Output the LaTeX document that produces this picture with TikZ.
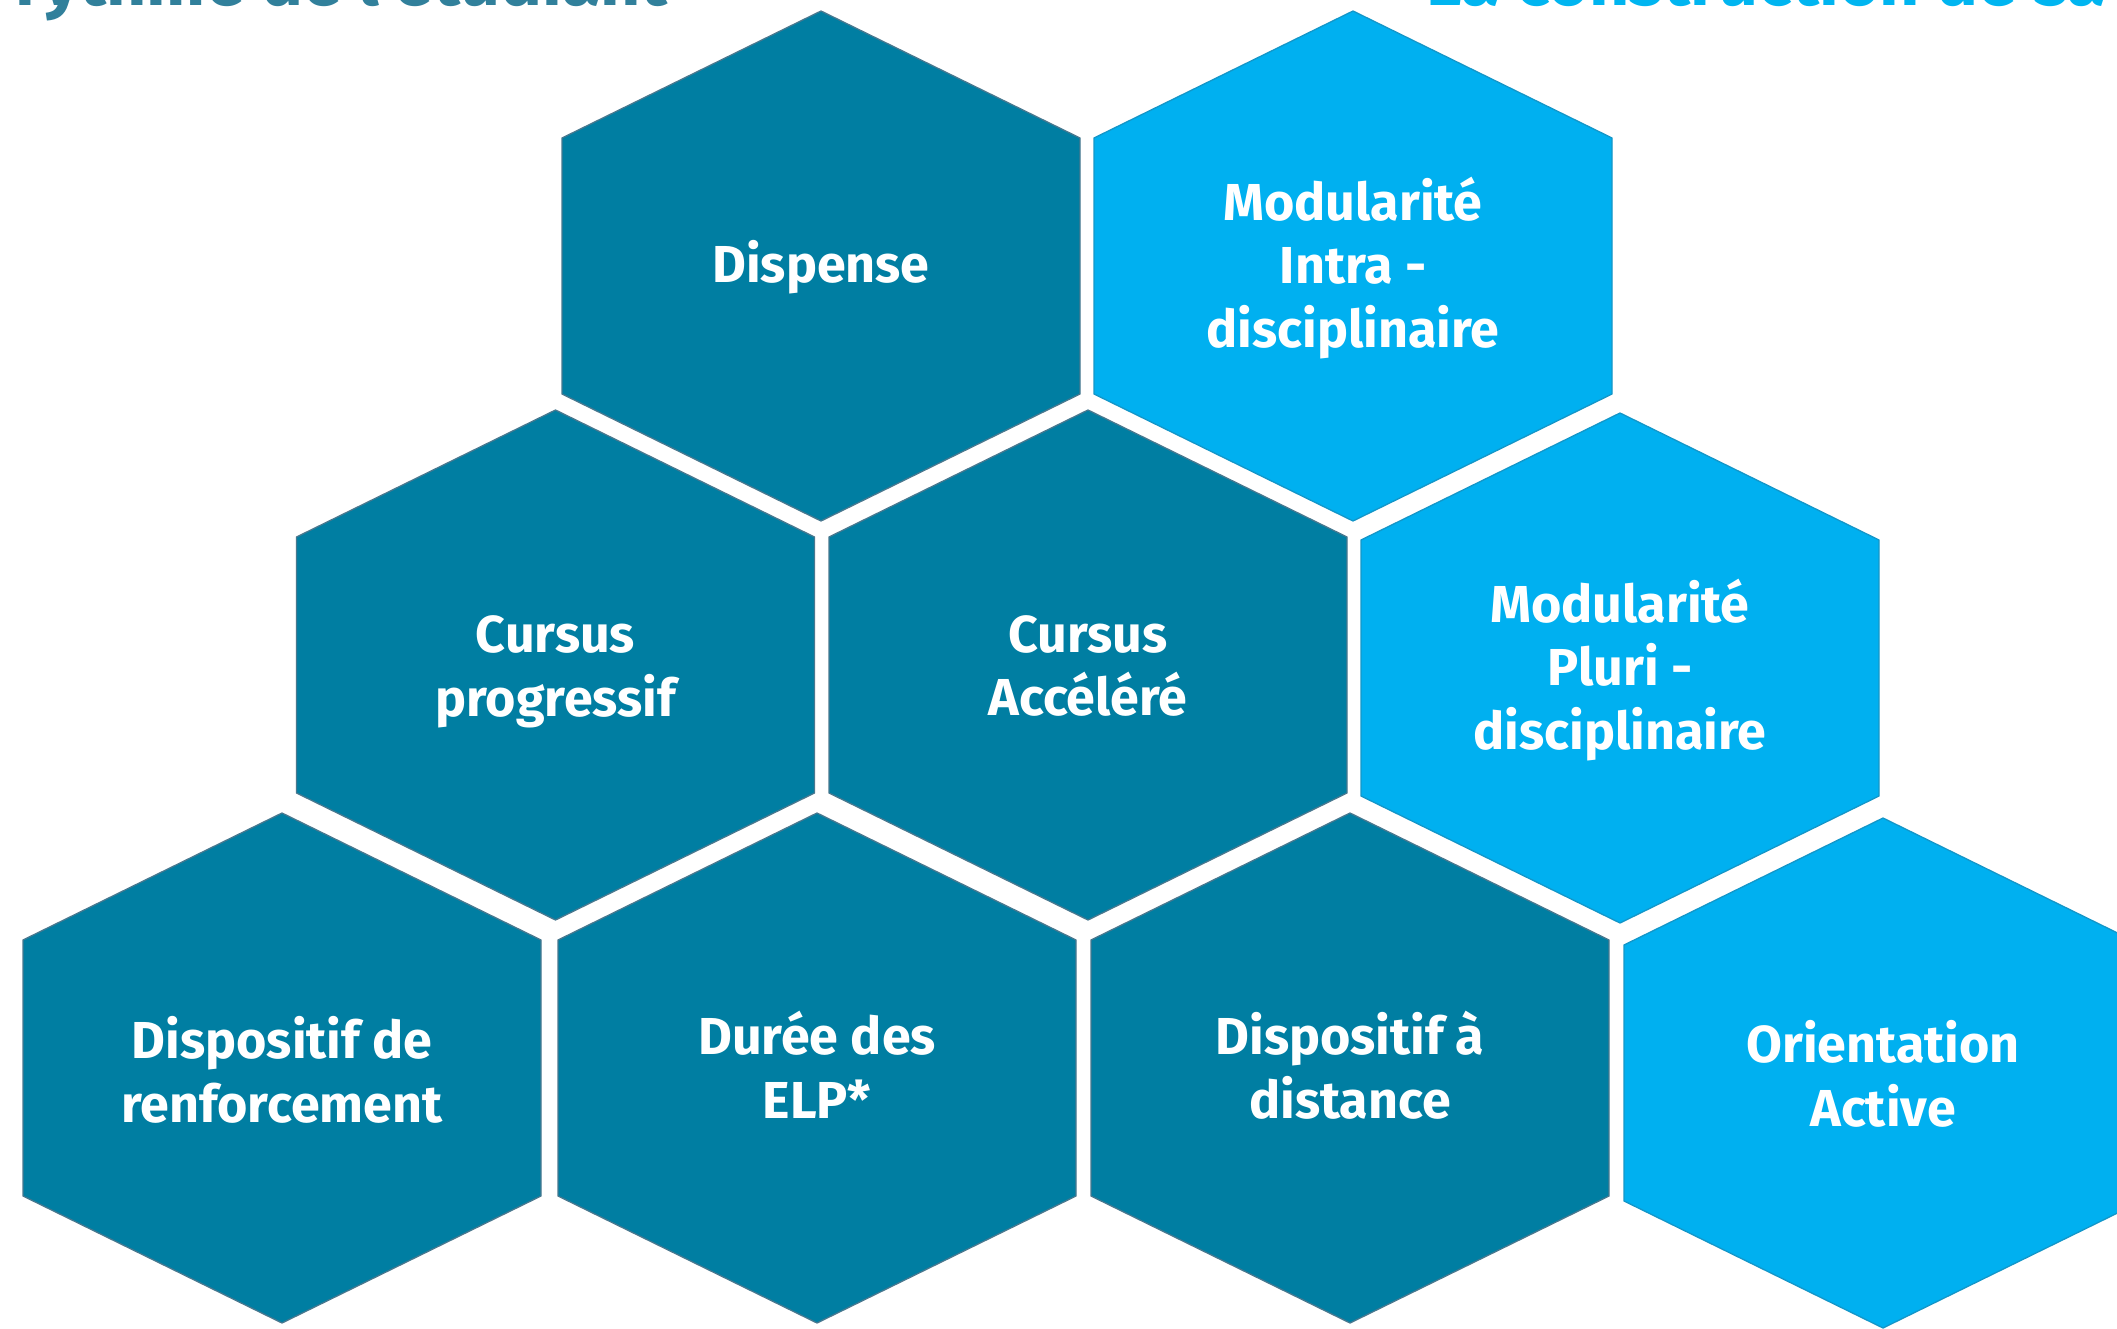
\documentclass[tikz,border=0pt]{standalone}
\usepackage{fontspec}
\setmainfont{Fira Sans}
\definecolor{tealfill}{HTML}{007EA2}
\definecolor{tealline}{HTML}{48788F}
\definecolor{bluefill}{HTML}{00B0F0}
\definecolor{blueline}{HTML}{1496C8}
\definecolor{titleteal}{HTML}{31809B}
\definecolor{titleblue}{HTML}{00B5F0}
\newcommand{\hexshape}[3]{%
  \path[#1] (#2,#3) ++(0,-255) -- ++(259,127) -- ++(0,256) -- ++(-259,127) -- ++(-259,-127) -- ++(0,-256) -- cycle;}
\tikzset{
  hexdark/.style={fill=tealfill, draw=tealline, line width=1.3pt},
  hexblue/.style={fill=bluefill, draw=blueline, line width=1.3pt},
  lbl/.style={text=white, font=\bfseries\fontsize{52}{63.5}\selectfont, align=center, inner sep=0pt},
  titlelbl/.style={font=\bfseries\fontsize{70}{80}\selectfont, inner sep=0pt}
}
\begin{document}
\begin{tikzpicture}[x=1pt,y=-1pt]
\useasboundingbox (0,0) rectangle (2117,1329);
\clip (0,0) rectangle (2117,1329);
% titles (cut off by the top edge)
\node[titlelbl, text=titleteal, anchor=base east] (tleft) at (668,6) {Le rythme de l'étudiant};
\node[titlelbl, text=titleblue, anchor=base west] (tright) at (1426,6) {La construction de sa formation};
% row 1
\hexshape{hexdark}{821}{266}
\hexshape{hexblue}{1353}{266}
% row 2
\hexshape{hexdark}{555.5}{665}
\hexshape{hexdark}{1088}{665}
\hexshape{hexblue}{1620}{668}
% row 3
\hexshape{hexdark}{282}{1068}
\hexshape{hexdark}{817}{1068}
\hexshape{hexdark}{1350}{1068}
\hexshape{hexblue}{1883}{1073}
% labels
\node[lbl] (dispense) at (821,267) {Dispense};
\node[lbl] (intra) at (1353,268) {Modularité\\Intra -\\disciplinaire};
\node[lbl] (progressif) at (555.5,672) {Cursus\\progressif};
\node[lbl] (accelere) at (1088,666) {Cursus\\Accéléré};
\node[lbl] (pluri) at (1620,670) {Modularité\\Pluri -\\disciplinaire};
\node[lbl] (renfort) at (282,1070) {Dispositif de\\renforcement};
\node[lbl] (duree) at (817,1065) {Durée des\\ELP*};
\node[lbl] (distance) at (1350,1065) {Dispositif à\\distance};
\node[lbl] (orientation) at (1883,1074) {Orientation\\Active};
\end{tikzpicture}
\end{document}
